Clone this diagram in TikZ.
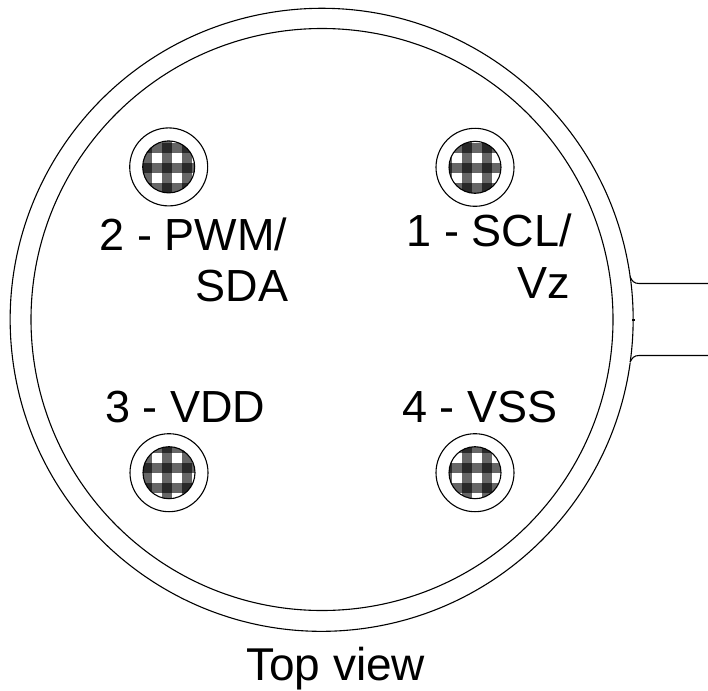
\documentclass[tikz,border=0pt]{standalone}
\usepackage{fontspec}
\setmainfont{Liberation Sans}
\tikzset{
  outline/.style={draw=black,line width=1.1pt},
  label text/.style={font=\fontsize{45}{54}\selectfont,inner sep=0pt,anchor=base west},
  band/.style={fill=black,fill opacity=0.6,draw=none}
}
% #1,#2 centre; #3 list of stripe x (absolute); #4 list of stripe y (absolute)
\newcommand{\pinhole}[4]{%
  \begin{scope}
    \draw[outline] (#1,#2) circle (39);
    \begin{scope}
      \clip (#1,#2) circle (26);
      \fill[white] (#1-27,#2-27) rectangle (#1+27,#2+27);
      \foreach \c in {#3}{
        \fill[band] (\c-5,#2-27) rectangle (\c+5,#2+27);
      }
      \foreach \c in {#4}{
        \fill[band] (#1-27,\c-5) rectangle (#1+27,\c+5);
      }
    \end{scope}
    \draw[outline] (#1,#2) circle (26);
  \end{scope}}
\begin{document}
\begin{tikzpicture}[x=1pt,y=-1pt]
\useasboundingbox (0,0) rectangle (708,690);
\fill[white] (0,0) rectangle (708,690);
% body
\draw[outline] (322,319.5) circle (291);
\draw[outline] (630.2,277) arc[start angle=-7.9,end angle=-352.1,radius=311.5];
\draw[outline] (630.2,362) arc[start angle=7.9,end angle=-7.9,radius=311.5];
% lead
\draw[outline] (630.2,277) .. controls (632,281) and (634,283.5) .. (639,283.5) -- (708,283.5);
\draw[outline] (630.2,362) .. controls (632,358) and (634,355.5) .. (639,355.5) -- (708,355.5);
\draw[outline] (632,320) -- (635,320);
% pins
\pinhole{168.7}{166.9}{146.7,166.7,186.7}{148.3,168.3,188.3}
\pinhole{475}{167.3}{446.7,466.7,486.7,506.7}{148.3,168.3,188.3}
\pinhole{169}{472.7}{146.7,166.7,186.7}{448.3,468.3,488.3,508.3}
\pinhole{475}{472.7}{446.7,466.7,486.7,506.7}{448.3,468.3,488.3,508.3}
% labels
\node[label text] (l2a) at (99.5,250) {2 - PWM/};
\node[label text] (l2b) at (195.5,301) {SDA};
\node[label text] (l1a) at (406.5,246) {1 - SCL/};
\node[label text] (l1b) at (517,298) {Vz};
\node[label text] (l3) at (105,422) {3 - VDD};
\node[label text] (l4) at (402,422) {4 - VSS};
\node[label text,font=\fontsize{46}{55}\selectfont] (t) at (246,680) {Top view};
\end{tikzpicture}
\end{document}
